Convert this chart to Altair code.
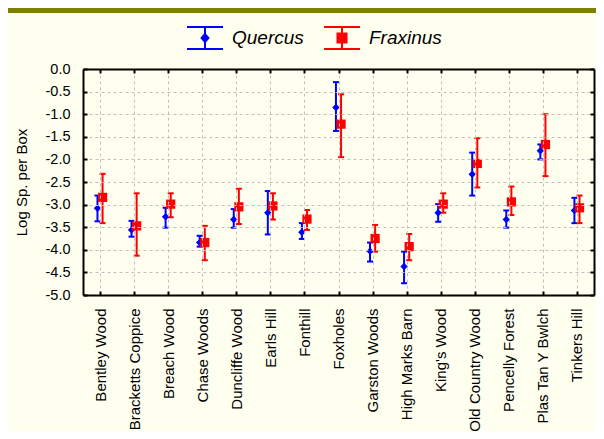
import json
import altair as alt
import pandas as pd

SITES = ["Bentley Wood", "Bracketts Coppice", "Breach Wood", "Chase Woods",
         "Duncliffe Wood", "Earls Hill", "Fonthill", "Foxholes", "Garston Woods",
         "High Marks Barn", "King's Wood", "Old Country Wood", "Pencelly Forest",
         "Plas Tan Y Bwlch", "Tinkers Hill"]
SERIES = ["Quercus", "Fraxinus"]
COLORS = ["#0000FF", "#FF0000"]

Q_MEAN = [-3.08, -3.56, -3.27, -3.84, -3.33, -3.18, -3.61, -0.85, -4.03, -4.37, -3.18, -2.33, -3.33, -1.81, -3.13]
Q_LO   = [-3.37, -3.71, -3.51, -3.93, -3.51, -3.66, -3.76, -1.37, -4.26, -4.74, -3.38, -2.80, -3.51, -2.00, -3.41]
Q_HI   = [-2.80, -3.36, -3.07, -3.69, -3.10, -2.70, -3.41, -0.29, -3.84, -4.04, -2.99, -1.85, -3.13, -1.67, -2.85]

F_MEAN = [-2.84, -3.47, -2.99, -3.84, -3.05, -3.03, -3.32, -1.22, -3.75, -3.93, -2.99, -2.09, -2.94, -1.67, -3.07]
F_LO   = [-3.41, -4.13, -3.28, -4.23, -3.43, -3.33, -3.56, -1.95, -4.04, -4.23, -3.18, -2.62, -3.23, -2.37, -3.41]
F_HI   = [-2.32, -2.75, -2.75, -3.47, -2.65, -2.75, -3.12, -0.56, -3.45, -3.65, -2.75, -1.53, -2.60, -1.00, -2.80]

Y_TICKS = [0.0, -0.5, -1.0, -1.5, -2.0, -2.5, -3.0, -3.5, -4.0, -4.5, -5.0]

rows = []
for name, mean, lo, hi in (("Quercus", Q_MEAN, Q_LO, Q_HI), ("Fraxinus", F_MEAN, F_LO, F_HI)):
    for i, s in enumerate(SITES):
        rows.append({"site": s, "idx": i, "series": name,
                     "mean": mean[i], "lo": lo[i], "hi": hi[i]})
df = pd.DataFrame(rows)

W, H = 511, 226
FONT = "Liberation Sans"
INWARD = alt.ExprRef(expr="-4")

xscale = alt.Scale(domain=[-0.5, 14.5], nice=False, zero=False)
yscale = alt.Scale(domain=[-5, 0], nice=False, zero=False)

label_expr = json.dumps(SITES) + "[datum.value]"

axis_bottom = alt.Axis(orient="bottom", values=list(range(len(SITES))), labelExpr=label_expr,
                       labelAngle=270, labelAlign="right", labelBaseline="middle",
                       labelFont=FONT, labelFontSize=15, labelColor="black",
                       labelPadding=17, labelOverlap=False, labelFlush=False, labelBound=False,
                       grid=True, gridColor="#C0C0C0", gridDash=[3, 3], gridWidth=1,
                       domain=True, domainColor="black", domainWidth=2,
                       ticks=True, tickSize=INWARD, tickWidth=2, tickColor="black",
                       title=None, zindex=1)
axis_left = alt.Axis(orient="left", values=Y_TICKS,
                     labelExpr="(datum.value < 0 ? '-' : '') + format(abs(datum.value), '.1f')",
                     labelFont=FONT, labelFontSize=14.5, labelColor="black",
                     labelPadding=17, labelFlush=False, labelOverlap=False,
                     grid=True, gridColor="#C0C0C0", gridDash=[3, 3], gridWidth=1,
                     domain=True, domainColor="black", domainWidth=2,
                     ticks=True, tickSize=INWARD, tickWidth=2, tickColor="black",
                     title="Log Sp. per Box", titleFont=FONT, titleFontSize=15,
                     titleFontWeight="normal", titleColor="black", titlePadding=16, zindex=1)
axis_top = alt.Axis(orient="top", values=list(range(len(SITES))), labels=False, grid=False,
                    domain=True, domainColor="black", domainWidth=2,
                    ticks=True, tickSize=INWARD, tickWidth=2, tickColor="black",
                    title=None, zindex=1)
axis_right = alt.Axis(orient="right", values=Y_TICKS, labels=False, grid=False,
                      domain=True, domainColor="black", domainWidth=2,
                      ticks=True, tickSize=INWARD, tickWidth=2, tickColor="black",
                      title=None, zindex=1)

# colour by series without a scale (legend is built from its own layer)
color = alt.condition(f"datum.series == '{SERIES[0]}'", alt.value(COLORS[0]), alt.value(COLORS[1]))

base = alt.Chart(df).transform_calculate(
    xpos="datum.idx + (datum.series == 'Quercus' ? -0.075 : 0.075)"
)

rules = base.mark_rule(strokeWidth=2).encode(
    x=alt.X("xpos:Q", scale=xscale, axis=axis_bottom),
    y=alt.Y("lo:Q", scale=yscale, axis=axis_left),
    y2="hi:Q",
    color=color,
)
caps_lo = base.mark_tick(orient="horizontal", size=6, thickness=2, opacity=1).encode(
    x=alt.X("xpos:Q", scale=xscale, axis=axis_top),
    y=alt.Y("lo:Q", scale=yscale, axis=axis_right),
    color=color,
)
caps_hi = base.mark_tick(orient="horizontal", size=6, thickness=2, opacity=1).encode(
    x=alt.X("xpos:Q", scale=xscale, axis=None),
    y=alt.Y("hi:Q", scale=yscale, axis=None),
    color=color,
)
pts_q = base.transform_filter("datum.series == 'Quercus'").mark_point(
    shape="diamond", filled=True, size=55, opacity=1).encode(
    x=alt.X("xpos:Q", scale=xscale, axis=None),
    y=alt.Y("mean:Q", scale=yscale, axis=None),
    color=color,
)
pts_f = base.transform_filter("datum.series == 'Fraxinus'").mark_point(
    shape="square", filled=True, size=85, opacity=1).encode(
    x=alt.X("xpos:Q", scale=xscale, axis=None),
    y=alt.Y("mean:Q", scale=yscale, axis=None),
    color=color,
)

PATH_Q = "M-1,-0.61H1M0,-0.61V0.61M-1,0.61H1M0,-0.22L0.19,0L0,0.22L-0.19,0Z"
PATH_F = "M-1,-0.61H1M0,-0.61V0.61M-1,0.61H1M-0.25,-0.25H0.25V0.25H-0.25Z"

leg = alt.Legend(title=None, orient="none", legendX=103, legendY=-50, direction="horizontal",
                 symbolSize=1296, symbolStrokeWidth=2, symbolOpacity=1,
                 labelFont=FONT, labelFontSize=19,
                 labelFontStyle="italic", labelColor="black", labelOffset=8,
                 columnPadding=16, padding=0)
legend_layer = alt.Chart(pd.DataFrame({"series": SERIES})).mark_point(
    filled=True, size=1296, strokeWidth=2, opacity=0).encode(
    fill=alt.Fill("series:N", scale=alt.Scale(domain=SERIES, range=COLORS), legend=leg),
    stroke=alt.Stroke("series:N", scale=alt.Scale(domain=SERIES, range=COLORS), legend=leg),
    shape=alt.Shape("series:N", scale=alt.Scale(domain=SERIES, range=[PATH_Q, PATH_F]), legend=leg),
)

band = alt.Chart(pd.DataFrame({"a": [0]})).mark_rule(color="#808000", strokeWidth=5).encode(
    x=alt.value(-75), x2=alt.value(W + 2), y=alt.value(-58.5)
)

chart = alt.layer(rules, caps_lo, caps_hi, pts_q, pts_f, legend_layer, band).properties(
    width=W, height=H,
    padding={"left": 75, "top": 61, "right": 2, "bottom": 136},
    autosize=alt.AutoSizeParams(type="none"),
).configure(
    background="#FFFFF0",
).configure_view(fill="white", stroke="transparent")

chart.save("out.html", embed_options={"renderer": "svg", "actions": False})
